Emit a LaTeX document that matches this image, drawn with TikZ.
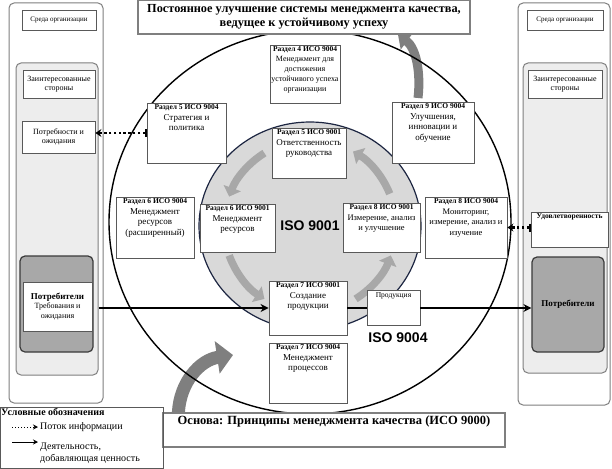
\documentclass[tikz,border=0pt]{standalone}
\usepackage{fontspec}
\setmainfont{Liberation Serif}
\newfontfamily\isoshrift{Liberation Sans}
\usetikzlibrary{positioning,arrows.meta,shapes.geometric,calc,backgrounds}
\definecolor{smkseryi}{HTML}{7F7F7F}
\definecolor{smkseryisvetly}{HTML}{EDEDED}
\definecolor{smkseryitemny}{HTML}{A8A8A8}
\definecolor{smktemny}{HTML}{3A3A3A}
\definecolor{smkkrug}{HTML}{D9D9D9}
\definecolor{smksini}{HTML}{1C2541}
\definecolor{smkstrelka}{HTML}{A8A8A8}
\definecolor{smkstrelkatemnaya}{HTML}{7F7F7F}
\definecolor{smkkontur}{HTML}{595959}
\newcommand{\razdelzag}[1]{{\bfseries\fontsize{7.5}{9.5}\selectfont #1}}
\tikzset{
  smkkolonka/.style={draw=smkseryi, fill=white, rounded corners=5pt, line width=1pt},
  smkstorony/.style={draw=smkseryi, fill=smkseryisvetly, rounded corners=5pt, line width=1pt},
  smkpotrebiteli/.style={draw=smktemny, fill=smkseryitemny, rounded corners=5pt, line width=1.2pt},
  smkramka/.style={draw=smkkontur, fill=white, line width=0.9pt, align=center, inner sep=1pt,
                  font=\fontsize{8}{9.5}\selectfont},
  smkrazdel/.style={draw=smkkontur, fill=white, line width=0.9pt},
  smktekst/.style={anchor=north, align=center, inner sep=2pt, font=\fontsize{9}{10.5}\selectfont},
  smkiso/.style={font=\isoshrift\bfseries\fontsize{14}{14}\selectfont},
  smkpotok/.style={-{Stealth[length=8pt,width=8pt]}, line width=2.2pt},
  smkinfo/.style={{Bar[width=8pt,line width=2pt]}-{Stealth[length=6pt,width=8pt]}, line width=2.2pt,
                  dash pattern=on 2.4pt off 2.4pt},
  smkcikl/.style={-{Triangle[length=9pt,width=18pt]}, line width=7.5pt, draw=smkstrelka},
  smkbolshaya/.style={-{Triangle[length=16pt,width=32pt]}, line width=13pt, draw=smkstrelkatemnaya},
}

\begin{document}
\begin{tikzpicture}[x=1pt, y=-1pt,
    verh/.style={smkbolshaya, line width=9pt, -{Triangle[length=11pt,width=20pt]}},
    legstr/.style={-{Stealth[length=5pt,width=5pt]}, line width=1pt}
  ]
  \useasboundingbox (0,0) rectangle (612,468);
  % krugi
  \node[draw, ellipse, line width=1.4pt, inner sep=0pt, minimum width=402pt, minimum height=384pt] (krug) at (310,222) {};
  \node[draw=smksini, fill=smkkrug, ellipse, line width=1.2pt, inner sep=0pt, minimum width=222pt, minimum height=208pt, smkiso] (yadro) at (310,226) {ISO 9001};
  \draw[smkcikl] ([shift={(122:86pt)}]yadro.center) arc[start angle=122, end angle=160, radius=86pt];
  \draw[smkcikl] ([shift={(200:86pt)}]yadro.center) arc[start angle=200, end angle=238, radius=86pt];
  \draw[smkcikl] ([shift={(302:86pt)}]yadro.center) arc[start angle=302, end angle=340, radius=86pt];
  \draw[smkcikl] ([shift={(22:86pt)}]yadro.center) arc[start angle=22, end angle=60, radius=86pt];
  % levaya kolonka
  \node[smkkolonka, minimum width=94pt, minimum height=400pt] (kolonkal) at (56,203) {};
  \node[smkramka, minimum width=74pt, minimum height=20pt, font=\fontsize{7}{8}\selectfont] (sredal) at (59,20) {Среда организации};
  \node[smkstorony, minimum width=82pt, minimum height=312pt] (storonyl) at (57,219) {};
  \node[smkramka, minimum width=72pt, minimum height=28pt] (zainterl) at (59,84) {Заинтересованные\\стороны};
  \node[smkramka, minimum width=73pt, minimum height=32pt] (ozhidaniyal) at (58.5,137) {Потребности и\\ожидания};
  \node[smkpotrebiteli, minimum width=73pt, minimum height=96pt] (potrebitelil) at (56.5,304) {};
  \node[smkramka, minimum width=69pt, minimum height=49pt] (trebovaniya) at (57.5,306.5) {{\bfseries\fontsize{9}{10}\selectfont Потребители}\\Требования и\\ожидания};
  % pravaya kolonka
  \node[smkkolonka, minimum width=92pt, minimum height=402pt] (kolonkar) at (564,204) {};
  \node[smkramka, minimum width=76pt, minimum height=20pt, font=\fontsize{7}{8}\selectfont] (sredar) at (565,20) {Среда организации};
  \node[smkstorony, minimum width=84pt, minimum height=310pt] (storonyr) at (565,218) {};
  \node[smkramka, minimum width=74pt, minimum height=28pt] (zainterr) at (565,84) {Заинтересованные\\стороны};
  \node[smkrazdel, minimum width=77pt, minimum height=35pt,
    label={[smktekst, font=\bfseries\fontsize{7.5}{9}\selectfont]north:{Удовлетворенность}}] (udovletv) at (569.5,229.5) {};
  \node[smkpotrebiteli, minimum width=72pt, minimum height=95pt, font=\bfseries\fontsize{9}{10}\selectfont] (potrebitelir) at (568,304.5) {Потребители};
  % razdely
  \node[smkrazdel, minimum width=70pt, minimum height=58pt,
    label={[smktekst, font=\fontsize{8}{10}\selectfont]north:{\razdelzag{Раздел 4 ИСО 9004}\\Менеджмент для\\достижения\\устойчивого успеха\\организации}}] (r4) at (305,74) {};
  \node[smkrazdel, minimum width=79pt, minimum height=60pt,
    label={[smktekst]north:{\razdelzag{Раздел 5 ИСО 9004}\\Стратегия и\\политика}}] (strategiya) at (186.5,133) {};
  \node[smkrazdel, minimum width=74pt, minimum height=50pt,
    label={[smktekst]north:{\razdelzag{Раздел 5 ИСО 9001}\\Ответственность\\руководства}}] (otvetstv) at (309,153) {};
  \node[smkrazdel, minimum width=82pt, minimum height=61pt,
    label={[smktekst]north:{\razdelzag{Раздел 9 ИСО 9004}\\Улучшения,\\инновации и\\обучение}}] (uluchsh) at (433,132.5) {};
  \node[smkrazdel, minimum width=78pt, minimum height=61pt,
    label={[smktekst]north:{\razdelzag{Раздел 6 ИСО 9004}\\Менеджмент\\ресурсов\\(расширенный)}}] (resursy) at (155,227.5) {};
  \node[smkrazdel, minimum width=75pt, minimum height=48pt,
    label={[smktekst]north:{\razdelzag{Раздел 6 ИСО 9001}\\Менеджмент\\ресурсов}}] (resursy9001) at (237.5,228) {};
  \node[smkrazdel, minimum width=77pt, minimum height=49pt,
    label={[smktekst, font=\fontsize{8.5}{10.5}\selectfont]north:{\razdelzag{Раздел 8 ИСО 9001}\\Измерение, анализ\\и улучшение}}] (izmerenie) at (381.5,227.5) {};
  \node[smkrazdel, minimum width=82pt, minimum height=61pt,
    label={[smktekst, font=\fontsize{8.5}{10.5}\selectfont]north:{\razdelzag{Раздел 8 ИСО 9004}\\Мониторинг,\\измерение, анализ и\\изучение}}] (monitoring) at (466,227.5) {};
  \node[smkrazdel, minimum width=78pt, minimum height=54pt,
    label={[smktekst]north:{\razdelzag{Раздел 7 ИСО 9001}\\Создание\\продукции}}] (sozdanie) at (308,308) {};
  \node[smkrazdel, minimum width=53pt, minimum height=35pt,
    label={[smktekst, font=\fontsize{7.5}{9}\selectfont]north:{Продукция}}] (produkciya) at (393.5,308) {};
  \node[smkrazdel, minimum width=78pt, minimum height=60pt,
    label={[smktekst]north:{\razdelzag{Раздел 7 ИСО 9004}\\Менеджмент\\процессов}}] (processy) at (308,373) {};
  \node[smkiso] (iso9004) at (398,338) {ISO 9004};
  % zagolovki
  \node[draw=smkseryi, fill=white, line width=1.5pt, minimum width=332pt, minimum height=34pt, align=center, inner sep=1pt,
    font=\bfseries\fontsize{12.3}{13.5}\selectfont] (zagolovok) at (304,17) {Постоянное улучшение системы менеджмента качества,\\ведущее к устойчивому успеху};
  \node[draw=smkseryi, fill=white, line width=1.2pt, minimum width=342pt, minimum height=34pt,
    label={[anchor=north, inner sep=3pt, font=\bfseries\fontsize{12.5}{14}\selectfont]north:{Основа: Принципы менеджмента качества (ИСО 9000)}}] (osnova) at (334,430) {};
  % potoki
  \draw[smkpotok] (storonyl.east |- sozdanie.west) -- (sozdanie.west);
  \draw[line width=2.2pt] (sozdanie.east) -- (produkciya.west);
  \draw[smkpotok] (produkciya.east) -- (produkciya.east -| potrebitelir.west);
  \draw[smkinfo] (strategiya.west) -- (strategiya.west -| ozhidaniyal.east);
  \draw[smkinfo] (udovletv.west |- monitoring.east) -- (monitoring.east);
  % bolshie strelki
  \coordinate (osnovastrelka) at (233,355);
  \coordinate (uspeh) at (418,98);
  \begin{scope}[on background layer]
    \draw[smkbolshaya] ([xshift=16pt]osnova.north west) .. controls (180,382) and (200,360) .. (osnovastrelka);
    \draw[verh] (uspeh) .. controls (421,72) and (416,48) .. ([xshift=94pt]zagolovok.south);
  \end{scope}
  % legenda
  \node[draw=smkkontur, line width=0.9pt, minimum width=163pt, minimum height=61pt] (legenda) at (81.5,437.5) {};
  \node[anchor=north west, inner sep=1.5pt, font=\bfseries\fontsize{10}{11}\selectfont] (legzag) at (legenda.north west) {Условные обозначения};
  \node[anchor=west, inner sep=2pt, font=\fontsize{10}{11}\selectfont] (leginfo) at (38,427) {Поток информации};
  \node[anchor=west, inner sep=2pt, align=left, font=\fontsize{10}{12}\selectfont] (legpotok) at (38,453) {Деятельность,\\добавляющая ценность};
  \coordinate (leginfonach) at (12,427);
  \coordinate (legpotoknach) at (12,442);
  \draw[legstr, dotted] (leginfonach) -- (leginfo.west);
  \draw[legstr] (legpotoknach) -- (legpotoknach -| legpotok.west);
\end{tikzpicture}
\end{document}
